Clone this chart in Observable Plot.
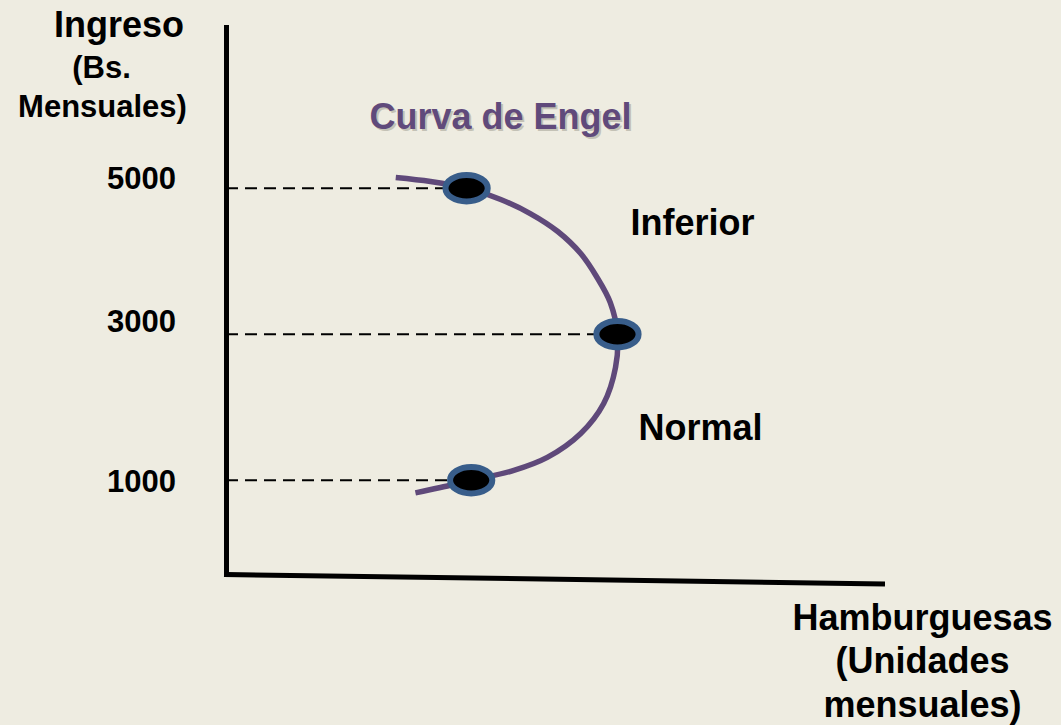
<!DOCTYPE html>
<html><head><meta charset="utf-8">
<script src="https://cdn.jsdelivr.net/npm/d3@7"></script>
<script src="https://cdn.jsdelivr.net/npm/@observablehq/plot@0.6"></script>
<style>
html,body{margin:0;padding:0;background:#EEECE1;}
#chart{width:1061px;height:725px;}
</style></head><body><div id="chart"></div>
<script>
// ---- data ----
const incomeLevels = [5000, 3000, 1000];
const tickLabels = ["5000", "3000", "1000"];
const pointQuantity = [3.66, 5.96, 3.73];
const curveQuantity = [2.58, 3.11, 3.66, 4.18, 4.63, 5.05, 5.40, 5.64, 5.85, 5.96, 5.93, 5.75, 5.40, 4.89, 4.38, 3.73, 3.26, 2.88];
const curveIncome   = [5147, 5092, 5000, 4845, 4653, 4407, 4105, 3790, 3434, 3000, 2544, 2051, 1640, 1312, 1134, 1000, 900, 827];
const segmentLabels = ["Inferior", "Normal"];
const chartTitle = "Curva de Engel";
const yTitleLines = ["Ingreso", "(Bs.", "Mensuales)"];
const xTitleText = "Hamburguesas\n(Unidades\nmensuales)";
const xDomain = [0, 10];
const yDomain = [-292, 7229];

// ---- build ----
const curveData = curveQuantity.map((q, i) => ({q, income: curveIncome[i]}));
const pointData = incomeLevels.map((v, i) => ({q: pointQuantity[i], income: v, label: tickLabels[i]}));

const ellipse = {
  draw(ctx, size) {
    const r = Math.sqrt(size / Math.PI);
    const rx = r * 1.6, ry = r, k = 0.5523;
    const kx = rx * k, ky = ry * k;
    ctx.moveTo(rx, 0);
    ctx.bezierCurveTo(rx, ky, kx, ry, 0, ry);
    ctx.bezierCurveTo(-kx, ry, -rx, ky, -rx, 0);
    ctx.bezierCurveTo(-rx, -ky, -kx, -ry, 0, -ry);
    ctx.bezierCurveTo(kx, -ry, rx, -ky, rx, 0);
    ctx.closePath();
  }
};

const font = "'Liberation Sans', Arial, Helvetica, sans-serif";
const tickDy = [-9, -12, 2];
const axisDrop = 130;
const txt = (s, o) => Plot.text([s], {text: d => d, fill: "#000", textAnchor: "middle", lineAnchor: "middle", ...o});

const marks = [
  Plot.ruleY(pointData, {x1: () => 0, x2: "q", y: "income", stroke: "#000", strokeWidth: 2, strokeDasharray: "12,7"}),
  Plot.ruleX([0], {stroke: "#000", strokeWidth: 5}),
  Plot.link([0], {x1: () => 0, x2: () => xDomain[1], y1: () => yDomain[0], y2: () => yDomain[0] - axisDrop,
    stroke: "#000", strokeWidth: 5, strokeLinecap: "square"}),
  Plot.line(curveData, {x: "q", y: "income", curve: "catmull-rom", stroke: "#5F497A", strokeWidth: 5.5, strokeLinecap: "butt"}),
  Plot.dot(pointData, {x: "q", y: "income", r: 13.2, symbol: ellipse, fill: "#000", stroke: "#385D8A", strokeWidth: 6}),
  // title with soft shadow
  txt(chartTitle, {frameAnchor: "top-left", dx: 276, dy: 93.5, fontSize: 36, fill: "#A8A699", fillOpacity: 0.6}),
  txt(chartTitle, {frameAnchor: "top-left", dx: 274, dy: 91.5, fontSize: 36, fill: "#604A7B"}),
  txt(segmentLabels[0], {frameAnchor: "top-left", dx: 466, dy: 197.5, fontSize: 36}),
  txt(segmentLabels[1], {frameAnchor: "top-left", dx: 474, dy: 402.5, fontSize: 36}),
  txt(yTitleLines[0], {frameAnchor: "top-left", dx: -107.5, dy: 0, fontSize: 36}),
  txt(yTitleLines[1], {frameAnchor: "top-left", dx: -125, dy: 43, fontSize: 31}),
  txt(yTitleLines[2], {frameAnchor: "top-left", dx: -124, dy: 82, fontSize: 31}),
  txt(xTitleText, {frameAnchor: "bottom-right", dx: 40, dy: 85, fontSize: 36, lineHeight: 1.2}),
  ...pointData.map((d, i) => Plot.text([d], {y: "income", text: "label", frameAnchor: "left", dx: -85, dy: tickDy[i], fontSize: 31, fill: "#000", textAnchor: "middle", lineAnchor: "middle"}))
];

const chart = Plot.plot({
  width: 1061, height: 725,
  marginLeft: 226, marginRight: 179, marginTop: 25, marginBottom: 151,
  x: {domain: xDomain, axis: null},
  y: {domain: yDomain, axis: null},
  style: {background: "#EEECE1", fontFamily: font, fontWeight: "bold", overflow: "visible"},
  marks
});
document.getElementById("chart").appendChild(chart);
</script>
</body></html>
